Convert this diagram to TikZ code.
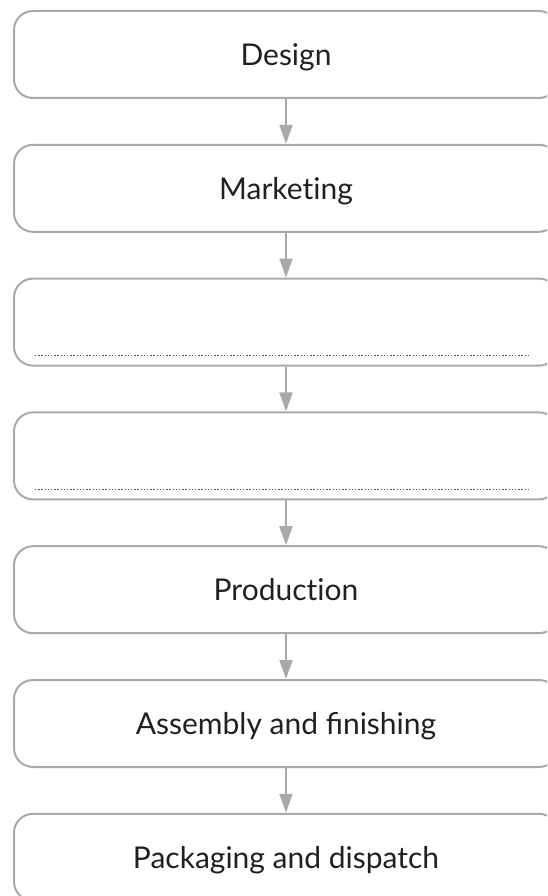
\documentclass[tikz,border=0pt]{standalone}
\usepackage{fontspec}
\setmainfont{Lato}[Ligatures=NoCommon]
\usetikzlibrary{arrows.meta}
\definecolor{boxgray}{RGB}{167,169,172}
\definecolor{txt}{RGB}{35,31,32}
\begin{document}
\begin{tikzpicture}[x=1pt,y=-1pt,
 stage/.style={draw=boxgray, line width=2pt, rounded corners=19pt, minimum width=544pt, minimum height=87pt, anchor=north west, inner sep=0pt, text height=21.5pt, text depth=0pt, font=\fontsize{30}{36}\selectfont, text=txt},
 flow/.style={draw=boxgray, line width=2pt, -{Triangle[width=13pt,length=19pt]}},
 blank/.style={draw=txt!75, line width=1.4pt, dash pattern=on 1.4pt off 1.8pt}]
\useasboundingbox (0,0) rectangle (547,896);
\clip (0,0) rectangle (547,896);
\node[stage] (b1) at (13,10) {Design};
\node[stage] (b2) at (13,143.8) {Marketing};
\node[stage] (b3) at (13,277.6) {};
\node[stage] (b4) at (13,411.4) {};
\node[stage] (b5) at (13,545.2) {Production};
\node[stage] (b6) at (13,679) {Assembly and ﬁnishing};
\node[stage] (b7) at (13,812.8) {Packaging and dispatch};
\draw[blank] ([shift={(22pt,11pt)}]b3.south west) -- ([shift={(517pt,11pt)}]b3.south west);
\draw[blank] ([shift={(22pt,11pt)}]b4.south west) -- ([shift={(517pt,11pt)}]b4.south west);
\draw[flow] (b1.south) -- (b2.north);
\draw[flow] (b2.south) -- (b3.north);
\draw[flow] (b3.south) -- (b4.north);
\draw[flow] (b4.south) -- (b5.north);
\draw[flow] (b5.south) -- (b6.north);
\draw[flow] (b6.south) -- (b7.north);
\end{tikzpicture}
\end{document}
